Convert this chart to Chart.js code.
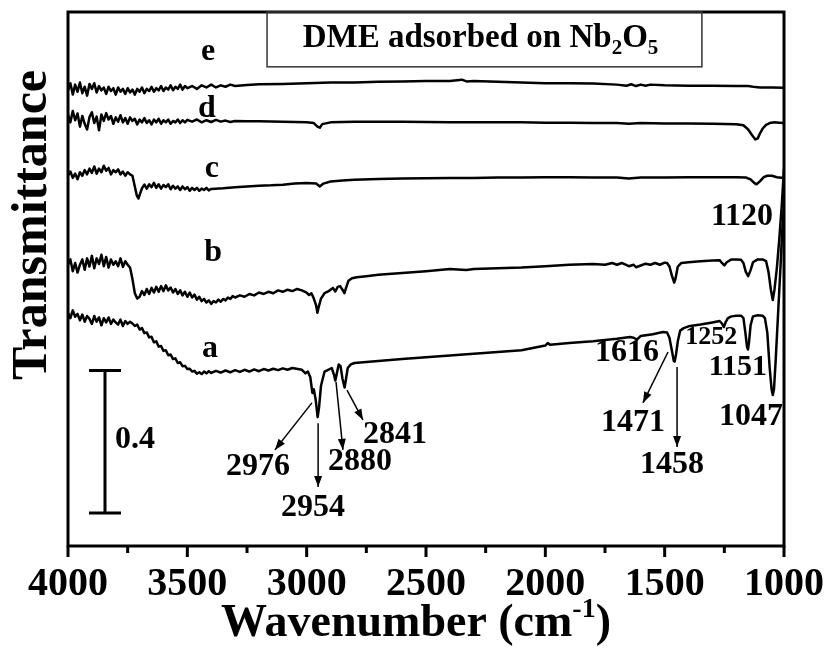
<!DOCTYPE html>
<html><head><meta charset="utf-8">
<script src="https://cdn.jsdelivr.net/npm/chart.js@4.4.0/dist/chart.umd.min.js"></script>
<style>html,body{margin:0;padding:0;background:#fff}#wrap{width:830px;height:648px}</style>
</head><body><div id="wrap"><canvas id="c" width="830" height="648"></canvas></div>
<script>
// ---------- DATA ----------
const wavenumberTicks = [4000, 3500, 3000, 2500, 2000, 1500, 1000];
const minorTicks = [3750, 3250, 2750, 2250, 1750, 1250];

const waveE = [4000,3990,3980,3970,3960,3950,3940,3930,3920,3910,3900,3890,3880,3870,3860,3850,3840,3830,3820,3810,3800,3790,3780,3770,3760,3750,3740,3730,3720,3710,3700,3690,3680,3670,3660,3650,3640,3630,3620,3610,3600,3590,3580,3570,3560,3550,3540,3530,3520,3510,3500,
  3480,3460,3440,3420,3400,3380,3360,3340,3320,3300,
  3250,3200,3100,3000,2900,2800,2700,2600,2500,2400,2350,2330,2300,2200,2100,2000,1900,1800,1700,1660,1640,1620,1600,1580,1560,1500,1400,1300,1200,1150,1120,1100,1050,1000];
const transE = [1.280,1.300,1.268,1.296,1.276,1.302,1.272,1.290,1.265,1.298,1.284,1.300,1.274,1.292,1.280,1.288,1.270,1.290,1.278,1.286,1.268,1.288,1.276,1.284,1.270,1.286,1.274,1.282,1.268,1.284,1.276,1.288,1.272,1.284,1.278,1.290,1.276,1.286,1.280,1.292,1.278,1.288,1.282,1.294,1.280,1.290,1.284,1.296,1.282,1.292,1.286,
  1.292,1.284,1.294,1.288,1.296,1.288,1.294,1.290,1.296,1.292,
  1.295,1.297,1.298,1.300,1.302,1.302,1.304,1.305,1.306,1.306,1.310,1.305,1.306,1.304,1.302,1.300,1.300,1.299,1.296,1.293,1.297,1.292,1.296,1.293,1.296,1.294,1.293,1.293,1.292,1.292,1.289,1.288,1.288,1.287];

const waveD = [4000,3990,3980,3970,3960,3950,3940,3930,3920,3910,3900,3890,3880,3870,3860,3850,3840,3830,3820,3810,3800,3790,3780,3770,3760,3750,3740,3730,3720,3710,3700,3690,3680,3670,3660,3650,3640,3630,3620,3610,3600,3590,3580,3570,3560,3550,3540,3530,3520,3510,3500,
  3480,3460,3440,3420,3400,3380,3360,3340,3320,3300,
  3250,3200,3100,3000,2970,2955,2945,2935,2900,2800,2700,2600,2500,2400,2300,2200,2100,2000,1900,1800,1700,1650,1600,1500,1400,1300,1200,1170,1150,1135,1120,1110,1100,1090,1075,1060,1040,1020,1000];
const transD = [1.212,1.190,1.222,1.196,1.215,1.178,1.208,1.186,1.170,1.205,1.218,1.188,1.206,1.168,1.212,1.194,1.216,1.198,1.208,1.186,1.204,1.192,1.210,1.190,1.202,1.186,1.204,1.194,1.200,1.184,1.198,1.190,1.202,1.188,1.196,1.184,1.198,1.190,1.200,1.186,1.196,1.190,1.198,1.186,1.194,1.190,1.198,1.188,1.196,1.190,1.197,
  1.192,1.198,1.190,1.196,1.191,1.197,1.192,1.195,1.191,1.194,
  1.193,1.193,1.192,1.190,1.188,1.178,1.175,1.185,1.190,1.192,1.192,1.192,1.191,1.190,1.190,1.190,1.190,1.189,1.189,1.188,1.188,1.186,1.188,1.187,1.187,1.186,1.185,1.182,1.170,1.155,1.142,1.145,1.160,1.172,1.183,1.188,1.190,1.189,1.188];

const waveC = [4000,3990,3980,3970,3960,3950,3940,3930,3920,3910,3900,3890,3880,3870,3860,3850,3840,3830,3820,3810,3800,3790,3780,3770,3760,3750,3740,3730,
  3720,3712,3705,3698,3690,
  3680,3670,3660,3650,3640,3630,3620,3610,3600,3590,3580,3570,3560,3550,3540,3530,3520,3510,3500,3490,3480,3470,3460,3450,3440,3430,3420,3410,3400,
  3350,3300,3250,3200,3150,3100,3050,3000,2960,2945,2930,2900,2850,2800,2700,2600,2500,2400,2300,2200,2100,2000,1900,1800,1700,1650,1600,1500,1400,1300,1200,1160,1140,1125,1115,1100,1085,1070,1050,1030,1000];
const transC = [1.040,1.052,1.034,1.046,1.030,1.050,1.040,1.056,1.044,1.060,1.048,1.066,1.046,1.060,1.050,1.068,1.054,1.062,1.044,1.056,1.050,1.058,1.044,1.052,1.040,1.050,1.044,1.040,
  1.010,0.985,0.976,0.990,1.005,
  1.015,1.004,1.016,1.008,1.020,1.006,1.016,1.004,1.014,1.008,1.016,1.002,1.012,1.004,1.010,1.000,1.010,1.002,1.008,0.998,1.006,1.000,1.006,0.998,1.004,1.000,1.006,0.999,1.003,
  1.005,1.008,1.010,1.012,1.013,1.015,1.018,1.020,1.018,1.010,1.018,1.024,1.027,1.029,1.031,1.032,1.033,1.034,1.034,1.035,1.035,1.036,1.036,1.035,1.035,1.032,1.035,1.035,1.036,1.036,1.036,1.035,1.030,1.020,1.016,1.025,1.036,1.040,1.040,1.036,1.034];

const waveB = [4000,3990,3980,3970,3960,3950,3940,3930,3920,3910,3900,3890,3880,3870,3860,3850,3840,3830,3820,3810,3800,3790,3780,3770,3760,3750,3740,
  3730,3720,3710,3700,
  3690,3680,3670,3660,3650,3640,3630,3620,3610,3600,3590,3580,3570,3560,3550,3540,3530,3520,3510,3500,3490,3480,3470,3460,3450,3440,3430,3420,3410,3400,3390,3380,3370,3360,3350,3340,3330,3320,3310,3300,
  3280,3260,3240,3220,3200,3180,3160,3140,3120,3100,3080,3060,3040,3020,
  3000,2990,2980,2970,2960,2955,2950,2940,2925,2910,2900,2890,2880,2870,2860,2850,2842,2835,2825,2810,2790,2750,2700,2600,2500,2400,2350,2330,2300,2200,2100,2000,1950,1900,1800,1750,1720,1700,1680,1650,1630,1620,1600,1580,1560,1540,1520,1500,1490,1480,1470,1460,1455,1445,1430,1400,1350,1300,1270,1260,1250,1240,1220,1200,1180,1170,1160,1150,1140,1130,1110,1090,1075,1065,1055,1047,1040,1030,1020,1010,1000];
const transB = [0.790,0.805,0.772,0.795,0.768,0.790,0.805,0.776,0.808,0.785,0.815,0.780,0.808,0.792,0.818,0.786,0.812,0.782,0.805,0.790,0.800,0.786,0.808,0.784,0.800,0.790,0.782,
  0.750,0.710,0.695,0.700,
  0.716,0.705,0.722,0.708,0.725,0.712,0.728,0.714,0.730,0.716,0.732,0.718,0.726,0.712,0.722,0.708,0.718,0.704,0.714,0.700,0.712,0.698,0.706,0.692,0.700,0.688,0.694,0.684,0.690,0.680,0.688,0.684,0.692,0.686,0.694,0.690,0.698,0.694,0.702,0.698,
  0.704,0.700,0.708,0.704,0.712,0.708,0.714,0.710,0.718,0.714,0.720,0.716,0.722,0.718,
  0.712,0.705,0.710,0.695,0.675,0.655,0.670,0.695,0.710,0.715,0.720,0.725,0.715,0.728,0.730,0.720,0.710,0.725,0.745,0.752,0.755,0.758,0.762,0.767,0.772,0.778,0.776,0.775,0.778,0.780,0.782,0.786,0.788,0.790,0.792,0.790,0.795,0.790,0.795,0.786,0.790,0.783,0.788,0.793,0.790,0.795,0.790,0.796,0.795,0.785,0.760,0.740,0.750,0.785,0.795,0.797,0.800,0.802,0.803,0.795,0.788,0.797,0.805,0.805,0.804,0.795,0.770,0.758,0.775,0.797,0.805,0.805,0.800,0.770,0.720,0.691,0.720,0.780,0.860,0.950,1.060];

const waveA = [4000,3990,3980,3970,3960,3950,3940,3930,3920,3910,3900,3890,3880,3870,3860,3850,3840,3830,3820,3810,3800,3790,3780,3770,3760,3750,3740,
  3730,3720,3710,3700,3690,3680,3670,3660,3650,3640,3630,3620,3610,3600,3590,3580,3570,3560,3550,3540,3530,3520,3510,3500,3490,3480,3470,3460,3450,3440,3430,3420,3410,3400,
  3380,3360,3340,3320,3300,3280,3260,3240,3220,3200,3180,3160,3140,3120,3100,3080,3060,
  3020,3005,2995,2985,2976,2970,2962,2954,2948,2940,2925,2910,2895,2885,2880,2875,2866,2858,2850,2841,2835,2828,2815,2800,2750,2700,2600,2500,2400,2300,2200,2100,2000,1990,1980,1900,1800,1700,1645,1630,1616,1600,1550,1507,1490,1480,1470,1462,1458,1452,1445,1435,1420,1400,1350,1300,1270,1260,1252,1245,1235,1220,1200,1180,1170,1162,1155,1151,1147,1140,1130,1110,1090,1080,1070,1060,1052,1047,1042,1035,1025,1015,1008,1000];
const transA = [0.655,0.640,0.662,0.644,0.652,0.634,0.650,0.630,0.646,0.638,0.624,0.646,0.630,0.642,0.620,0.640,0.628,0.642,0.624,0.636,0.628,0.622,0.636,0.618,0.632,0.624,0.630,
  0.625,0.618,0.622,0.608,0.612,0.598,0.600,0.586,0.588,0.572,0.575,0.560,0.562,0.548,0.550,0.536,0.538,0.525,0.527,0.514,0.516,0.505,0.506,0.497,0.498,0.490,0.492,0.484,0.488,0.483,0.490,0.485,0.491,0.486,
  0.492,0.487,0.493,0.488,0.494,0.489,0.495,0.490,0.496,0.491,0.497,0.493,0.498,0.494,0.499,0.495,0.500,
  0.495,0.485,0.490,0.475,0.430,0.440,0.410,0.362,0.390,0.450,0.490,0.495,0.500,0.480,0.465,0.480,0.510,0.505,0.470,0.445,0.470,0.500,0.510,0.514,0.517,0.520,0.525,0.530,0.535,0.540,0.545,0.550,0.563,0.570,0.565,0.570,0.575,0.582,0.587,0.585,0.580,0.590,0.595,0.601,0.600,0.585,0.550,0.520,0.518,0.540,0.575,0.605,0.612,0.617,0.622,0.628,0.632,0.625,0.615,0.628,0.640,0.645,0.647,0.647,0.640,0.600,0.560,0.552,0.570,0.620,0.645,0.648,0.647,0.640,0.600,0.500,0.440,0.424,0.440,0.520,0.650,0.780,0.880,0.950];

// ---------- ANNOTATIONS (data coordinates) ----------
const seriesLabels = [
  {t:'a', x:3405, y:0.531}, {t:'b', x:3392, y:0.80}, {t:'c', x:3397, y:1.037},
  {t:'d', x:3418, y:1.205}, {t:'e', x:3413, y:1.365}
];
const peakLabels = [
  {t:'2976', x:3204, y:0.222, s:32}, {t:'2954', x:2973, y:0.107, s:32},
  {t:'2880', x:2777, y:0.236, s:32}, {t:'2841', x:2630, y:0.312, s:32},
  {t:'1616', x:1658, y:0.542, s:32}, {t:'1252', x:1305, y:0.587, s:26},
  {t:'1151', x:1193, y:0.503, s:30}, {t:'1047', x:1138, y:0.362, s:32},
  {t:'1471', x:1633, y:0.346, s:32}, {t:'1458', x:1469, y:0.228, s:32},
  {t:'1120', x:1176, y:0.924, s:32}, {t:'0.4', x:3719, y:0.298, s:32}
];
const arrows = [
  {x1:2978, y1:0.402, x2:3133, y2:0.270}, {x1:2952, y1:0.345, x2:2952, y2:0.166},
  {x1:2877, y1:0.461, x2:2848, y2:0.270}, {x1:2831, y1:0.438, x2:2764, y2:0.354},
  {x1:1486, y1:0.545, x2:1591, y2:0.402}, {x1:1448, y1:0.503, x2:1448, y2:0.278}
];
const scaleBar = {x:3845, y0:0.093, len:0.4};

const FONT = '"Liberation Serif","Times New Roman",serif';

function richText(ctx, parts, x, y, align) {
  let w = 0;
  parts.forEach(p => { ctx.font = 'bold ' + p.s + 'px ' + FONT; p.w = ctx.measureText(p.t).width; w += p.w; });
  let cx = align === 'center' ? x - w / 2 : x;
  ctx.textAlign = 'left';
  ctx.textBaseline = 'alphabetic';
  parts.forEach(p => { ctx.font = 'bold ' + p.s + 'px ' + FONT; ctx.fillText(p.t, cx, y + (p.dy || 0)); cx += p.w; });
}

function arrow(ctx, x1, y1, x2, y2) {
  ctx.beginPath(); ctx.moveTo(x1, y1); ctx.lineTo(x2, y2); ctx.lineWidth = 1.5; ctx.stroke();
  const a = Math.atan2(y2 - y1, x2 - x1), L = 11, W = 4;
  ctx.beginPath();
  ctx.moveTo(x2, y2);
  ctx.lineTo(x2 - L * Math.cos(a) + W * Math.sin(a), y2 - L * Math.sin(a) - W * Math.cos(a));
  ctx.lineTo(x2 - L * Math.cos(a) - W * Math.sin(a), y2 - L * Math.sin(a) + W * Math.cos(a));
  ctx.closePath(); ctx.fill();
}

const decor = {
  id: 'decor',
  afterDraw(chart) {
    const ctx = chart.ctx, xs = chart.scales.x, ys = chart.scales.y, ca = chart.chartArea;
    ctx.save();
    ctx.fillStyle = '#000'; ctx.strokeStyle = '#000';
    ctx.lineWidth = 3;
    ctx.strokeRect(ca.left, ca.top, ca.right - ca.left, ca.bottom - ca.top);
    wavenumberTicks.forEach(v => { const p = xs.getPixelForValue(v); ctx.beginPath(); ctx.moveTo(p, ca.bottom); ctx.lineTo(p, ca.bottom + 11); ctx.stroke(); });
    minorTicks.forEach(v => { const p = xs.getPixelForValue(v); ctx.beginPath(); ctx.moveTo(p, ca.bottom); ctx.lineTo(p, ca.bottom + 7); ctx.stroke(); });
    // title box
    const bx1 = xs.getPixelForValue(3166), bx2 = xs.getPixelForValue(1344), by2 = ys.getPixelForValue(1.346);
    ctx.lineWidth = 1.5; ctx.strokeStyle = '#333';
    ctx.strokeRect(bx1, ca.top, bx2 - bx1, by2 - ca.top);
    ctx.strokeStyle = '#000';
    richText(ctx, [{t:'DME adsorbed on Nb', s:33}, {t:'2', s:21, dy:7}, {t:'O', s:33}, {t:'5', s:21, dy:7}], (bx1 + bx2) / 2 - 4, ys.getPixelForValue(1.402), 'center');
    // series labels
    ctx.textAlign = 'center'; ctx.textBaseline = 'alphabetic';
    ctx.font = 'bold 32px ' + FONT;
    seriesLabels.forEach(l => ctx.fillText(l.t, xs.getPixelForValue(l.x), ys.getPixelForValue(l.y)));
    // peak labels
    ctx.textBaseline = 'middle';
    peakLabels.forEach(l => { ctx.font = 'bold ' + l.s + 'px ' + FONT; ctx.fillText(l.t, xs.getPixelForValue(l.x), ys.getPixelForValue(l.y)); });
    arrows.forEach(a => arrow(ctx, xs.getPixelForValue(a.x1), ys.getPixelForValue(a.y1), xs.getPixelForValue(a.x2), ys.getPixelForValue(a.y2)));
    // scale bar
    const sx = xs.getPixelForValue(scaleBar.x), sy0 = ys.getPixelForValue(scaleBar.y0), sy1 = ys.getPixelForValue(scaleBar.y0 + scaleBar.len);
    ctx.lineWidth = 3;
    ctx.beginPath();
    ctx.moveTo(sx, sy0); ctx.lineTo(sx, sy1);
    ctx.moveTo(sx - 16, sy0); ctx.lineTo(sx + 16, sy0);
    ctx.moveTo(sx - 16, sy1); ctx.lineTo(sx + 16, sy1);
    ctx.stroke();
    // x title
    richText(ctx, [{t:'Wavenumber (cm', s:46}, {t:'-1', s:28, dy:-19}, {t:')', s:46}], (ca.left + ca.right) / 2 - 10, 636, 'center');
    // y title
    ctx.save();
    ctx.translate(33, 225);
    ctx.rotate(-Math.PI / 2);
    ctx.font = 'bold 50px ' + FONT;
    ctx.textAlign = 'center'; ctx.textBaseline = 'middle';
    ctx.fillText('Transmittance', 0, 0);
    ctx.restore();
    ctx.restore();
  }
};

function mk(w, t) { return w.map((x, i) => ({x: x, y: t[i]})); }

new Chart(document.getElementById('c'), {
  type: 'line',
  data: {
    datasets: [
      {label:'a', data: mk(waveA, transA)},
      {label:'b', data: mk(waveB, transB)},
      {label:'c', data: mk(waveC, transC)},
      {label:'d', data: mk(waveD, transD)},
      {label:'e', data: mk(waveE, transE)}
    ].map(d => Object.assign(d, {borderColor:'#000', borderWidth:2.5, pointRadius:0, tension:0, fill:false, borderJoinStyle:'round'}))
  },
  options: {
    responsive: false, animation: false, devicePixelRatio: 1,
    layout: {padding: {left: 68, right: 46, top: 12, bottom: 0}},
    plugins: {legend: {display: false}, tooltip: {enabled: false}},
    scales: {
      x: {
        type: 'linear', min: 1000, max: 4000, reverse: true, position: 'bottom',
        grid: {display: false, drawTicks: false},
        border: {display: false},
        afterBuildTicks: s => { s.ticks = wavenumberTicks.map(v => ({value: v})); },
        afterFit: s => { s.height = 102; s.paddingLeft = 0; s.paddingRight = 0; },
        ticks: {font: {family: FONT, size: 40, weight: 'bold'}, color: '#000', padding: 15, maxRotation: 0, autoSkip: false, callback: v => String(v)}
      },
      y: {type: 'linear', min: 0, max: 1.5, display: false}
    }
  },
  plugins: [decor]
});
</script></body></html>
